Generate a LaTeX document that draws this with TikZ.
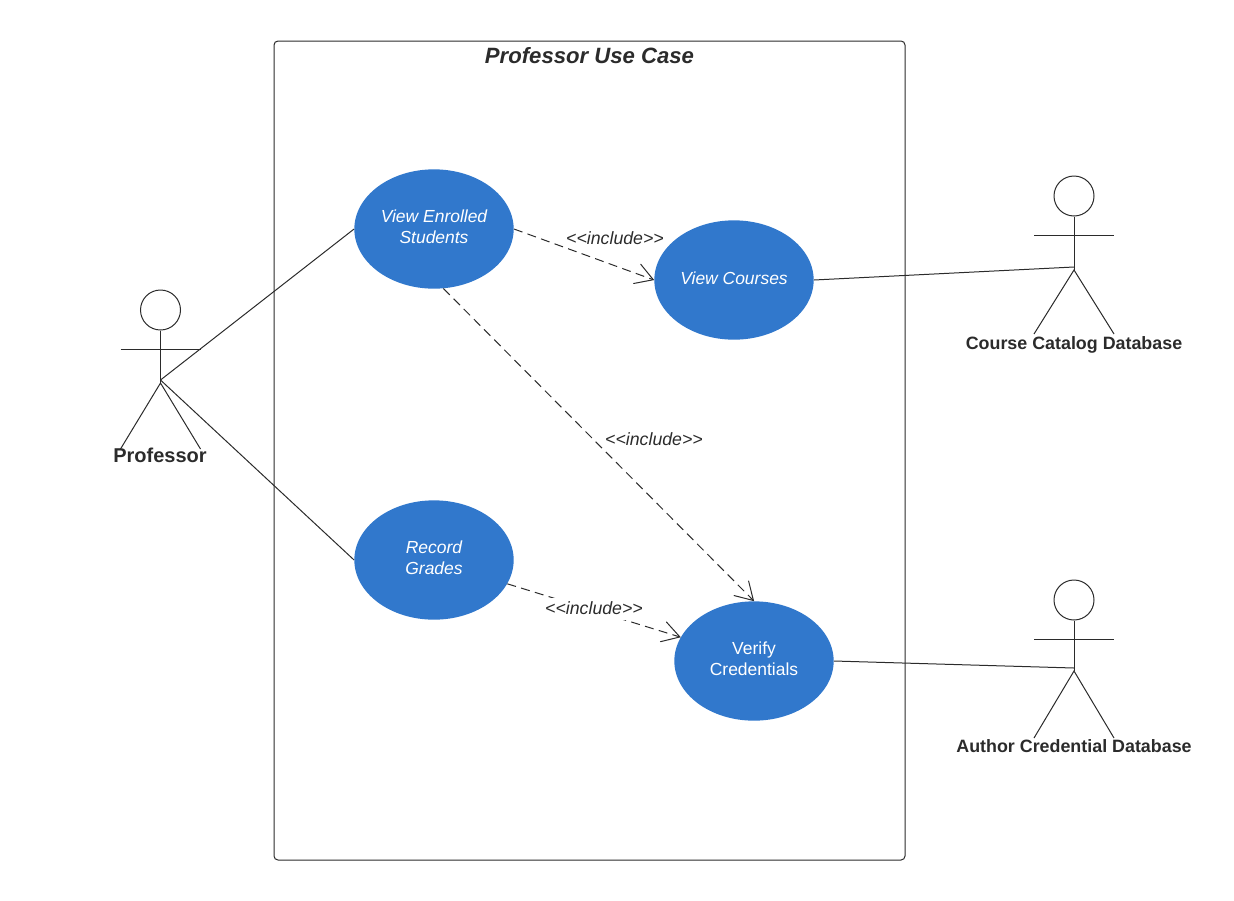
\documentclass[tikz,border=0pt]{standalone}
\usepackage{fontspec}
\setmainfont{Liberation Sans}
\usetikzlibrary{shapes.geometric,arrows.meta}
\definecolor{ink}{HTML}{2B2B2B}
\definecolor{casefill}{HTML}{3178CC}
\pgfdeclarearrow{
  name=OpenVee,
  setup code={\pgfarrowssettipend{0.6pt}\pgfarrowssetlineend{-0.6pt}},
  drawing code={
    \pgfsetdash{}{0pt}\pgfsetroundcap\pgfsetmiterjoin
    \pgfpathmoveto{\pgfpoint{-12.9pt}{7.7pt}}
    \pgfpathlineto{\pgfpointorigin}
    \pgfpathlineto{\pgfpoint{-12.9pt}{-7.7pt}}
    \pgfusepathqstroke
  },
  defaults={}
}
\tikzset{
  wire/.style={draw=ink,line width=0.75pt},
  usecase/.style={ellipse,fill=casefill,draw=none,minimum width=119.5pt,minimum height=89.5pt,inner sep=0pt,
    text=white,align=center,text depth=3pt,font=\fontsize{13.1}{15.75}\selectfont\itshape},
  incl/.style={wire,dash pattern=on 6.75pt off 4.05pt,-{OpenVee}},
  incltext/.style={text=ink,inner sep=1pt,font=\fontsize{13.3}{15.75}\selectfont\itshape},
  actortext/.style={text=ink,inner sep=0pt,font=\fontsize{13.4}{16}\selectfont\bfseries},
  headcircle/.style={circle,draw=ink,line width=0.75pt,minimum size=30pt,inner sep=0pt},
}
\newcommand{\stickactor}[6]{%
  % name, x, head y, arm y, hip y, foot y
  \node[headcircle] (#1-head) at (#2,#3) {};
  \coordinate (#1-hip) at (#2,#5);
  \coordinate (#1-crotch) at (#2,#5+3);
  \coordinate (#1-armL) at (#2-40,#4);
  \coordinate (#1-armR) at (#2+40,#4);
  \coordinate (#1-footL) at (#2-40,#6);
  \coordinate (#1-footR) at (#2+40,#6);
  \draw[wire] (#1-head.south) -- (#1-crotch);
  \draw[wire] (#1-armL) -- (#1-armR);
  \draw[wire] (#1-footL) -- (#1-crotch) -- (#1-footR);
}
\begin{document}
\begin{tikzpicture}[x=0.75pt,y=-0.75pt]
\useasboundingbox (0,0) rectangle (1234,900);
\node[draw=ink,line width=0.75pt,rounded corners=3pt,minimum width=473.25pt,minimum height=614.25pt,inner sep=0pt] (system) at (589.5,450.5) {};
\node[text=ink,inner sep=0pt,font=\fontsize{16.6}{20}\selectfont\bfseries\itshape] (title) at (589.5,55.5) {Professor Use Case};

\node[usecase] (enrolled) at (434,229) {View Enrolled\\Students};
\node[usecase] (courses) at (734,280) {View Courses};
\node[usecase] (grades) at (434,560) {Record\\Grades};
\node[usecase,font=\fontsize{13.1}{15.75}\selectfont] (verify) at (754,661) {Verify\\Credentials};

\stickactor{prof}{160.5}{310}{349}{380}{449}
\stickactor{catalog}{1074}{196}{235.5}{267}{334}
\stickactor{author}{1074}{600}{639}{668}{738}
\node[actortext,font=\fontsize{15}{18}\selectfont\bfseries] (proflabel) at (160,455) {Professor};
\node[actortext] (cataloglabel) at (1074,345) {Course Catalog Database};
\node[actortext] (authorlabel) at (1074,746) {Author Credential Database};

\draw[wire] (enrolled.west) -- (prof-hip);
\draw[wire] (grades.west) -- (prof-hip);
\draw[wire] (courses.east) -- (catalog-hip);
\draw[wire] (verify.east) -- (author-hip);

\draw[incl] (enrolled.east) -- (courses.west);
\draw[incl] (enrolled.-81.5) -- (verify.north);
\draw[incl] (grades.-18) -- (verify.162);

\node[incltext] (inc1) at (615,238) {<{}<include>{}>};
\node[incltext] (inc2) at (654,439) {<{}<include>{}>};
\node[incltext,fill=white,minimum height=16.5pt] (inc3) at (594,608.5) {<{}<include>{}>};
\end{tikzpicture}
\end{document}
